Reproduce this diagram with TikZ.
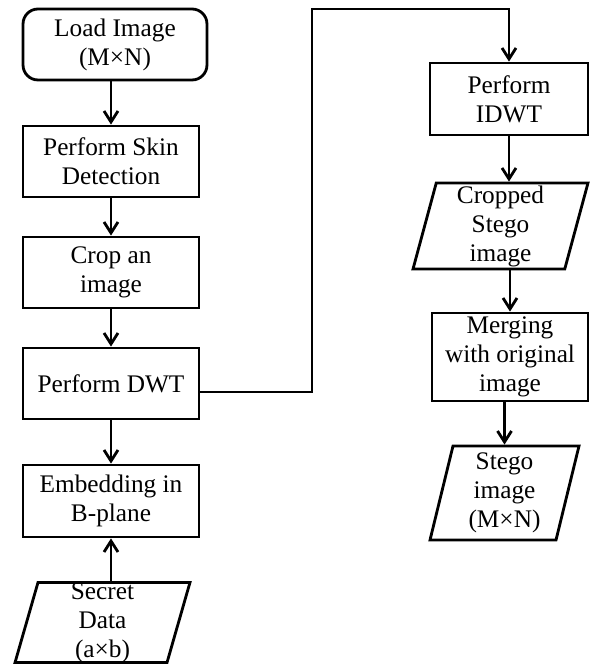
\documentclass[tikz,border=0pt]{standalone}
\usepackage{fontspec}
\setmainfont{Liberation Serif}
\usetikzlibrary{arrows.meta,shapes.geometric}

\begin{document}
\begin{tikzpicture}[x=0.02cm,y=-0.02cm,
		every node/.style={font=\fontsize{14.4}{16.5}\selectfont, align=center, inner sep=0pt, line width=1.6pt},
		box/.style={draw, rectangle, minimum width=3.52cm, minimum height=1.42cm},
		iobox/.style={draw, trapezium, trapezium left angle=74, trapezium right angle=106, trapezium stretches body},
		arr/.style={-{Straight Barb[length=2.2mm,width=2.8mm,line width=1.6pt]}, line width=1.6pt}]
				\useasboundingbox (0,0) rectangle (589,665);
				
				\node[box, rounded corners=0.3cm, minimum width=3.68cm] (load) at (115,44.5) {Load Image\\(M×N)};
				\node[box] (skin) at (111,161.5) {Perform Skin\\Detection};
				\node[box] (crop) at (111,272.5) {Crop an\\image};
				\node[box] (dwt) at (111,383.5) {Perform DWT};
				\node[box, minimum height=1.44cm] (embed) at (111,501) {Embedding in\\B-plane};
				\node[iobox, minimum width=3.5cm, minimum height=1.6cm] (secret) at (102.5,622.5) {Secret\\Data\\(a×b)};
				
				\node[box, minimum width=3.16cm, minimum height=1.44cm] (idwt) at (509,99) {Perform\\IDWT};
				\node[iobox, minimum width=3.5cm, minimum height=1.72cm] (cropped) at (500.5,226) {Cropped\\Stego\\image};
				\node[box, minimum width=3.12cm, minimum height=1.76cm] (merge) at (510,357) {Merging\\with original\\image};
				\node[iobox, minimum width=2.98cm, minimum height=1.88cm] (stego) at (504.5,493) {Stego\\image\\(M×N)};
				
				\coordinate (turn) at (312,9);
				
				\draw[arr] (load.south -| skin) -- (skin.north);
				\draw[arr] (skin) -- (crop);
				\draw[arr] (crop) -- (dwt);
				\draw[arr] (dwt) -- (embed);
				\draw[arr] (secret.north -| embed) -- (embed.south);
				\draw[arr] ([yshift=-0.17cm]dwt.east) -| (turn) -| (idwt.north);
				\draw[arr] (idwt) -- (cropped.north -| idwt);
				\draw[arr] (cropped.south -| merge) -- (merge.north);
				\draw[arr] (merge.south -| stego.north) -- (stego.north);
			\end{tikzpicture}
\end{document}
